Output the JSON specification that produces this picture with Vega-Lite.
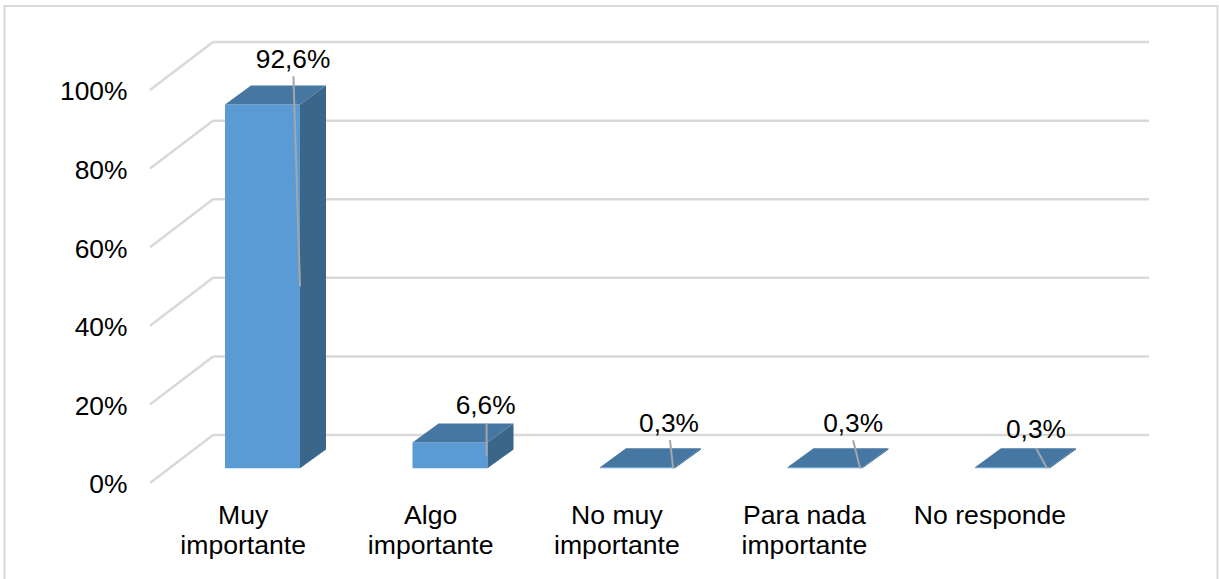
{
"$schema":"https://vega.github.io/schema/vega-lite/v6.json",
"autosize":{"type":"fit","contains":"padding"},
"width":1219,"height":579,"padding":0,"background":"white",
"config":{"view":{"stroke":null},"font":"Liberation Sans"},
"datasets":{
"bars":[
{"i":0,"categoria":"Muy\nimportante","valor":92.6,"etiqueta":"92,6%"},
{"i":1,"categoria":"Algo\nimportante","valor":6.6,"etiqueta":"6,6%"},
{"i":2,"categoria":"No muy\nimportante","valor":0.3,"etiqueta":"0,3%"},
{"i":3,"categoria":"Para nada\nimportante","valor":0.3,"etiqueta":"0,3%"},
{"i":4,"categoria":"No responde","valor":0.3,"etiqueta":"0,3%"}],
"ticks":[{"t":0},{"t":20},{"t":40},{"t":60},{"t":80},{"t":100}]
},
"layer":[
{"data":{"values":[{"a":1}]},"mark":{"type":"rect","fill":"white","stroke":"#D9D9D9","strokeWidth":2,"clip":true},
 "encoding":{"x":{"datum":-1.376,"type":"quantitative","scale":{"domain":[-1.4,5.1013],"nice":false,"zero":false},"axis":null},"x2":{"datum":5.093},
 "y":{"datum":121.4,"type":"quantitative","scale":{"domain":[-24.43,122.9],"nice":false,"zero":false},"axis":{"orient":"left","offset":-127,"zindex":1,"values":[0,20,40,60,80,100],"format":".0f","labelExpr":"datum.label + '%'","domain":false,"ticks":false,"grid":false,"title":null,"labelFontSize":26.4,"labelColor":"#000000","labelPadding":0,"labelOffset":2,"labelFont":"Liberation Sans"}},"y2":{"datum":-26}}},
{"data":{"name":"ticks"},"transform":[{"calculate":"-0.6","as":"x0"},{"calculate":"-0.264","as":"x1"},{"calculate":"4.728","as":"x2e"},{"calculate":"datum.t+12.2","as":"yb"}],
 "layer":[
 {"mark":{"type":"rule","color":"#D9D9D9","strokeWidth":2.5},"encoding":{"x":{"field":"x0","type":"quantitative"},"x2":{"field":"x1"},"y":{"field":"t","type":"quantitative"},"y2":{"field":"yb"}}},
 {"mark":{"type":"rule","color":"#D9D9D9","strokeWidth":2.5},"encoding":{"x":{"field":"x1","type":"quantitative"},"x2":{"field":"x2e"},"y":{"field":"yb","type":"quantitative"}}}
 ]},
{"data":{"name":"bars"},
 "transform":[
 {"calculate":"datum.i-0.2","as":"xl"},{"calculate":"datum.i+0.2","as":"xr"},
 {"calculate":"3.72","as":"yf0"},{"calculate":"3.72+datum.valor","as":"yf1"}],
 "mark":{"type":"rect","fill":"#5B9BD5","stroke":null},
 "encoding":{"x":{"field":"xl","type":"quantitative"},"x2":{"field":"xr"},"y":{"field":"yf0","type":"quantitative"},"y2":{"field":"yf1"}}},
{"data":{"name":"bars"},
 "transform":[{"calculate":"[0,1]","as":"t"},{"flatten":["t"]},
 {"calculate":"datum.i+0.2+datum.t*0.1387","as":"px"},
 {"calculate":"3.72+datum.t*4.83","as":"pl"},
 {"calculate":"3.72+datum.valor+datum.t*4.83","as":"pu"}],
 "mark":{"type":"area","fill":"#3A6689","orient":"vertical","interpolate":"linear"},
 "encoding":{"detail":{"field":"i"},"x":{"field":"px","type":"quantitative"},"y":{"field":"pl","type":"quantitative"},"y2":{"field":"pu"}}},
{"data":{"name":"bars"},
 "transform":[{"calculate":"[0,1,2,3]","as":"t"},{"flatten":["t"]},
 {"calculate":"datum.i-0.2+[0,0.1387,0.4,0.5387][datum.t]","as":"px"},
 {"calculate":"3.72+datum.valor+[0,0,0,4.83][datum.t]","as":"pl"},
 {"calculate":"3.72+datum.valor+[0,4.83,4.83,4.83][datum.t]","as":"pu"}],
 "mark":{"type":"area","fill":"#4676A2","orient":"vertical","interpolate":"linear"},
 "encoding":{"detail":{"field":"i"},"x":{"field":"px","type":"quantitative"},"y":{"field":"pl","type":"quantitative"},"y2":{"field":"pu"}}},
{"data":{"name":"bars"},
 "transform":[
 {"calculate":"datum.i+[0.165,0.195,0.173,0.15,0.125][datum.i]","as":"lx0"},
 {"calculate":"datum.i+[0.2,0.195,0.19,0.187,0.184][datum.i]","as":"lx1"},
 {"calculate":"[103.5,15.2,10.9,10.9,8.9][datum.i]","as":"ly0"},
 {"calculate":"[50,7,3.72,3.72,3.72][datum.i]","as":"ly1"}],
 "mark":{"type":"rule","color":"#A6A6A6","strokeWidth":2},
 "encoding":{"x":{"field":"lx0","type":"quantitative"},"x2":{"field":"lx1"},"y":{"field":"ly0","type":"quantitative"},"y2":{"field":"ly1"}}},
{"data":{"name":"bars"},
 "transform":[
 {"calculate":"datum.i+[0.163,0.19,0.168,0.15,0.125][datum.i]","as":"tx"},
 {"calculate":"[107.6,19.7,15.0,15.0,13.5][datum.i]","as":"ty"}],
 "mark":{"type":"text","fontSize":26.3,"color":"#000000","align":"center","baseline":"middle"},
 "encoding":{"x":{"field":"tx","type":"quantitative"},"y":{"field":"ty","type":"quantitative"},"text":{"field":"etiqueta"}}},
{"data":{"name":"bars"},
 "transform":[
 {"calculate":"[-0.103,-0.103,-0.11,-0.11,-0.12][datum.i]+datum.i","as":"tx"},
 {"calculate":"-8.5","as":"ty"}],
 "mark":{"type":"text","fontSize":26.6,"color":"#000000","align":"center","baseline":"middle","lineBreak":"\n","lineHeight":30},
 "encoding":{"x":{"field":"tx","type":"quantitative"},"y":{"field":"ty","type":"quantitative"},"text":{"field":"categoria"}}}
]
}
